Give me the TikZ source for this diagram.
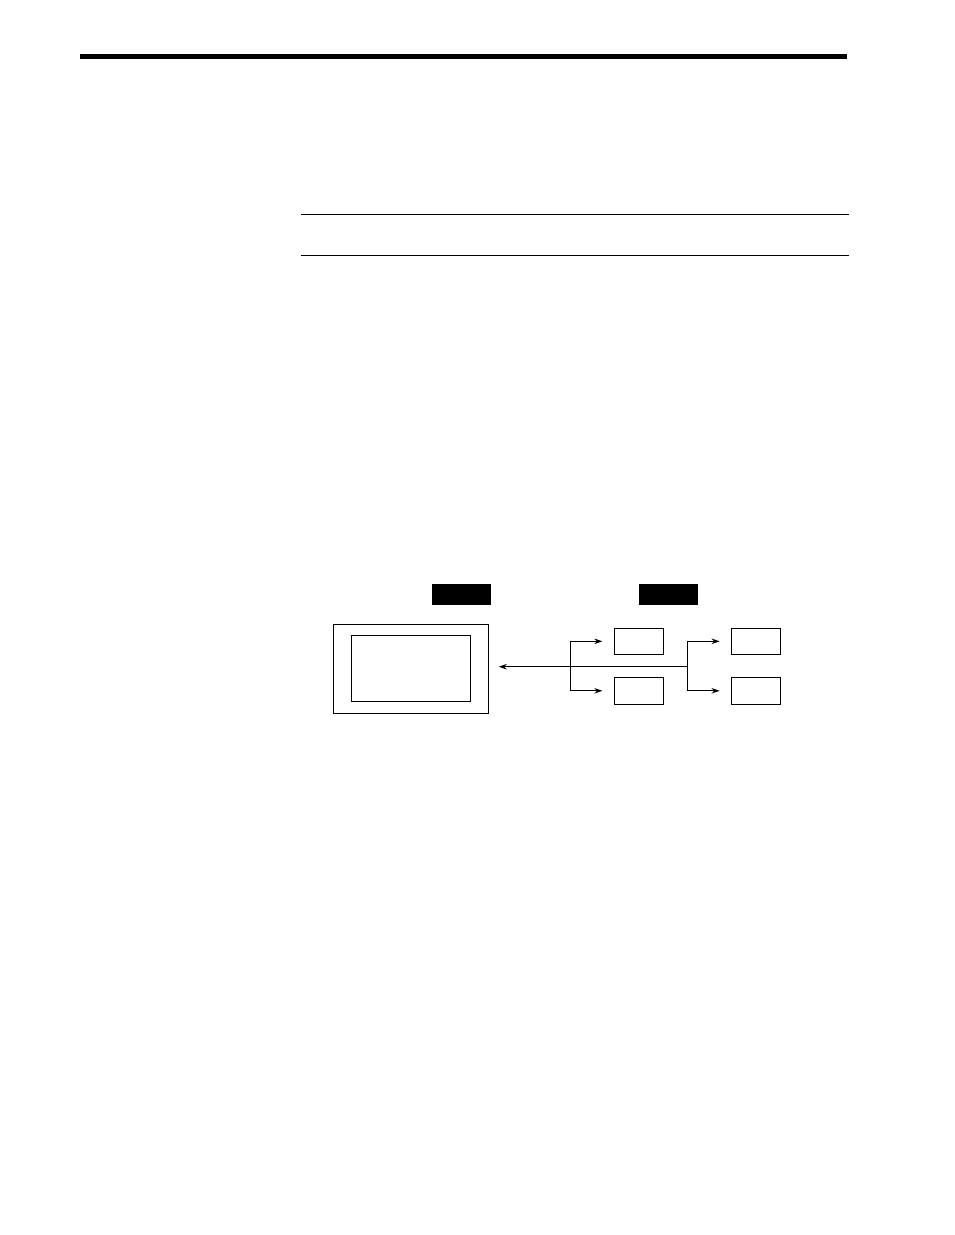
\documentclass[tikz,border=0pt]{standalone}
\usetikzlibrary{arrows.meta}
\begin{document}
\begin{tikzpicture}[x=1pt,y=-1pt,
  box/.style={draw=black,line width=0.9pt,fill=white},
  tag/.style={fill=black,draw=none},
  conn/.style={draw=black,line width=0.9pt},
  arr/.style={conn,-{Stealth[length=8pt,width=5.5pt]}}]
\useasboundingbox[fill=white] (0,0) rectangle (954,1235);
% header rules
\fill[black] (80,54) rectangle (847,59);
\draw[line width=1pt] (301,214) -- (849,214);
\draw[line width=1pt] (301,255) -- (849,255);
% black tags
\node[tag,minimum width=59pt,minimum height=20.5pt,inner sep=0pt] (tagA) at (461.5,594.5) {};
\node[tag,minimum width=59pt,minimum height=20.5pt,inner sep=0pt] (tagB) at (668.5,594.5) {};
% main unit
\node[box,minimum width=155pt,minimum height=89pt,inner sep=0pt] (outer) at (410.8,668.8) {};
\node[box,minimum width=119pt,minimum height=66pt,inner sep=0pt] (inner) at (410.8,668.3) {};
% small units
\node[box,minimum width=49pt,minimum height=26pt,inner sep=0pt] (b1) at (638.8,641.3) {};
\node[box,minimum width=49pt,minimum height=27pt,inner sep=0pt] (b2) at (638.8,690.8) {};
\node[box,minimum width=49pt,minimum height=26pt,inner sep=0pt] (b3) at (756,641.3) {};
\node[box,minimum width=49pt,minimum height=27pt,inner sep=0pt] (b4) at (756,690.8) {};
% bus
\coordinate (busend) at (687,666.7);
\coordinate (j1) at (570.3,666.7);
\draw[arr] (busend) -- ([xshift=10pt]outer.east |- busend);
\draw[arr] (j1) |- ([xshift=-11.5pt]b1.west);
\draw[arr] (j1) |- ([xshift=-11.5pt]b2.west);
\draw[arr] (busend) |- ([xshift=-11.5pt]b3.west);
\draw[arr] (busend) |- ([xshift=-11.5pt]b4.west);
\end{tikzpicture}
\end{document}
